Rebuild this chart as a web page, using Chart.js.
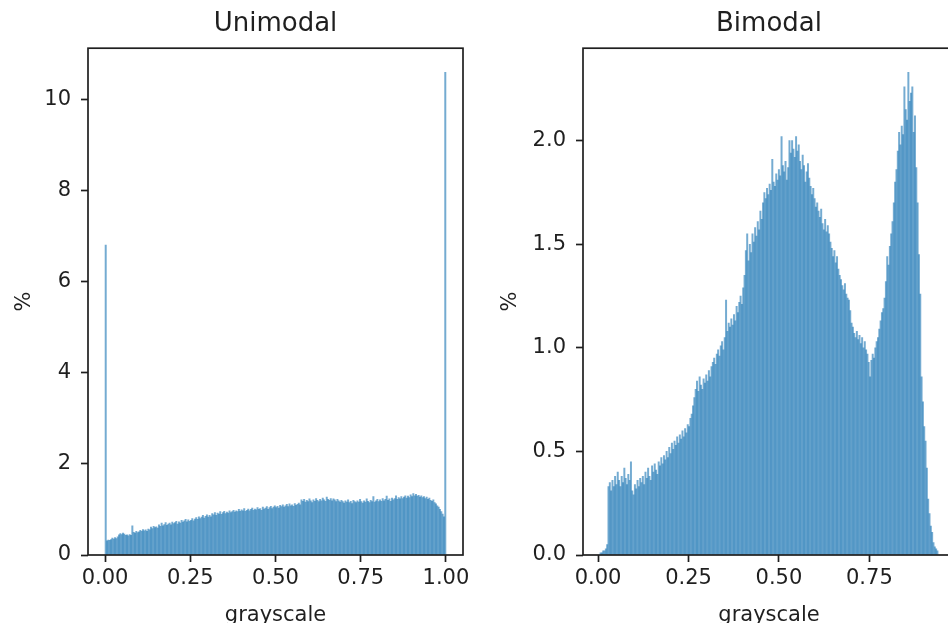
<!DOCTYPE html>
<html>
<head>
<meta charset="utf-8">
<script src="https://cdn.jsdelivr.net/npm/chart.js@4.4.0/dist/chart.umd.min.js"></script>
<style>
    html, body { margin: 0; padding: 0; background: #fff; overflow: hidden; }
    #marco { position: relative; width: 948px; height: 623px; overflow: hidden; }
    canvas { position: absolute; top: 0; }
    #uni { left: 0; }
    #bi { left: 474px; }
</style>
</head>
<body>
<div id="marco">
    <canvas id="uni" width="474" height="623"></canvas>
    <canvas id="bi" width="500" height="623"></canvas>
</div>
<script>
// Rango de los bins (grayscale) y porcentaje de pixeles en cada bin (256 bins)
var uniRange = [0, 1];
var uniPercent = [
    6.80, 0.31, 0.33, 0.32, 0.34, 0.37, 0.35, 0.38, 0.36, 0.40, 0.44, 0.47, 0.45, 0.48, 0.46, 0.43,
    0.44, 0.42, 0.45, 0.43, 0.64, 0.50, 0.48, 0.52, 0.49, 0.51, 0.54, 0.52, 0.56, 0.53, 0.55, 0.52,
    0.57, 0.55, 0.61, 0.58, 0.63, 0.60, 0.62, 0.59, 0.66, 0.63, 0.70, 0.64, 0.67, 0.71, 0.65, 0.68,
    0.70, 0.66, 0.72, 0.69, 0.71, 0.74, 0.68, 0.73, 0.70, 0.76, 0.72, 0.75, 0.78, 0.73, 0.77, 0.74,
    0.76, 0.80, 0.75, 0.79, 0.82, 0.78, 0.84, 0.80, 0.83, 0.87, 0.81, 0.85, 0.88, 0.83, 0.87, 0.84,
    0.91, 0.88, 0.93, 0.87, 0.92, 0.90, 0.95, 0.89, 0.93, 0.96, 0.91, 0.94, 0.92, 0.97, 0.93, 0.95,
    0.98, 0.94, 0.97, 0.95, 1.00, 0.96, 0.99, 0.97, 1.02, 0.96, 0.98, 1.01, 0.97, 1.00, 1.03, 0.98,
    1.01, 0.99, 1.04, 1.00, 1.02, 0.98, 1.05, 1.01, 1.03, 1.06, 1.00, 1.04, 1.07, 1.02, 1.05, 1.08,
    1.04, 1.07, 1.03, 1.09, 1.06, 1.10, 1.05, 1.08, 1.11, 1.06, 1.12, 1.08, 1.10, 1.07, 1.13, 1.09,
    1.11, 1.14, 1.10, 1.21, 1.18, 1.22, 1.16, 1.20, 1.17, 1.23, 1.19, 1.15, 1.21, 1.18, 1.24, 1.20,
    1.17, 1.22, 1.19, 1.25, 1.21, 1.18, 1.27, 1.22, 1.20, 1.24, 1.19, 1.23, 1.21, 1.17, 1.22, 1.19,
    1.16, 1.20, 1.17, 1.14, 1.19, 1.16, 1.21, 1.15, 1.18, 1.13, 1.20, 1.17, 1.15, 1.19, 1.16, 1.22,
    1.17, 1.14, 1.19, 1.16, 1.23, 1.18, 1.15, 1.20, 1.17, 1.28, 1.16, 1.19, 1.22, 1.17, 1.21, 1.18,
    1.24, 1.19, 1.22, 1.29, 1.20, 1.23, 1.18, 1.25, 1.21, 1.24, 1.30, 1.22, 1.26, 1.23, 1.28, 1.24,
    1.27, 1.30, 1.25, 1.29, 1.26, 1.32, 1.28, 1.35, 1.30, 1.33, 1.29, 1.31, 1.27, 1.30, 1.26, 1.28,
    1.24, 1.27, 1.22, 1.25, 1.20, 1.18, 1.21, 1.15, 1.12, 1.08, 1.05, 1.00, 0.95, 0.90, 0.84, 10.59
];

var biRange = [0.005, 0.94];
var biPercent = [
    0.01, 0.01, 0.02, 0.02, 0.03, 0.05, 0.33, 0.35, 0.31, 0.36, 0.33, 0.38, 0.34, 0.40, 0.36, 0.33,
    0.38, 0.35, 0.42, 0.37, 0.34, 0.39, 0.36, 0.45, 0.31, 0.29, 0.34, 0.32, 0.36, 0.33, 0.37, 0.35,
    0.38, 0.34, 0.40, 0.37, 0.42, 0.38, 0.36, 0.43, 0.40, 0.44, 0.41, 0.39, 0.45, 0.43, 0.47, 0.44,
    0.48, 0.46, 0.50, 0.47, 0.52, 0.49, 0.54, 0.51, 0.55, 0.53, 0.57, 0.54, 0.58, 0.56, 0.60, 0.57,
    0.61, 0.59, 0.63, 0.62, 0.66, 0.68, 0.72, 0.76, 0.80, 0.84, 0.79, 0.86, 0.82, 0.80, 0.85, 0.83,
    0.87, 0.84, 0.89, 0.86, 0.91, 0.93, 0.95, 0.92, 0.97, 0.99, 0.96, 1.01, 1.03, 0.99, 1.05, 1.23,
    1.08, 1.12, 1.10, 1.14, 1.11, 1.16, 1.13, 1.20, 1.17, 1.22, 1.25, 1.21, 1.29, 1.35, 1.47, 1.55,
    1.42, 1.50, 1.46, 1.55, 1.51, 1.58, 1.54, 1.61, 1.57, 1.66, 1.62, 1.70, 1.75, 1.72, 1.77, 1.74,
    1.79, 1.76, 1.91, 1.80, 1.78, 1.84, 1.81, 1.86, 1.83, 2.02, 1.88, 1.85, 1.90, 1.81, 1.87, 2.00,
    1.94, 2.00, 1.96, 1.92, 2.02, 1.95, 1.98, 1.90, 1.86, 1.93, 1.88, 1.80, 1.85, 1.89, 1.82, 1.78,
    1.74, 1.77, 1.72, 1.68, 1.70, 1.66, 1.63, 1.67, 1.60, 1.57, 1.62, 1.56, 1.59, 1.55, 1.51, 1.48,
    1.44, 1.47, 1.41, 1.44, 1.38, 1.35, 1.33, 1.30, 1.28, 1.31, 1.26, 1.24, 1.23, 1.18, 1.12, 1.10,
    1.07, 1.05, 1.08, 1.04, 1.06, 1.02, 1.05, 1.00, 1.03, 0.99, 0.97, 0.93, 0.86, 0.94, 0.97, 0.95,
    1.00, 1.03, 1.05, 1.09, 1.13, 1.17, 1.19, 1.24, 1.32, 1.44, 1.40, 1.49, 1.55, 1.61, 1.70, 1.80,
    1.86, 1.95, 2.04, 1.98, 2.07, 2.03, 2.26, 2.15, 2.10, 2.33, 2.19, 2.23, 2.26, 2.04, 2.12, 1.87,
    1.70, 1.45, 1.26, 0.86, 0.74, 0.62, 0.55, 0.42, 0.27, 0.20, 0.14, 0.11, 0.06, 0.04, 0.03, 0.02
];

// Marcas de los ejes
var uniXTicks = [0, 0.25, 0.5, 0.75, 1.0];
var uniYTicks = [0, 2, 4, 6, 8, 10];
var biXTicks = [0, 0.25, 0.5, 0.75];
var biYTicks = [0, 0.5, 1.0, 1.5, 2.0];

var colorTexto = "#1f1f1f";
Chart.defaults.font.family = "'DejaVu Sans', sans-serif";
Chart.defaults.color = colorTexto;

// Caja completa alrededor del area de datos (como los spines de matplotlib)
var cajaEjes = {
    id: "cajaEjes",
    afterDatasetsDraw: function (chart) {
        var a = chart.chartArea;
        var ctx = chart.ctx;
        ctx.save();
        ctx.strokeStyle = colorTexto;
        ctx.lineWidth = 1.7;
        ctx.strokeRect(a.left, a.top, a.right - a.left, a.bottom - a.top);
        ctx.restore();
    },
};

// Convierte los porcentajes en puntos {x: centro del bin, y: porcentaje}
function puntosBins(range, valores) {
    var ancho = (range[1] - range[0]) / valores.length;
    return valores.map(function (v, i) {
        return { x: range[0] + (i + 0.5) * ancho, y: v };
    });
}

function crearHistograma(id, titulo, range, valores, xTicks, yTicks, yDecimales, anchoY, padDerecha, padTituloY) {
    var span = range[1] - range[0];
    var yMax = Math.max.apply(null, valores) * 1.05;
    return new Chart(document.getElementById(id), {
        type: "bar",
        data: {
            datasets: [
                {
                    data: puntosBins(range, valores),
                    backgroundColor: "rgba(31,119,180,0.62)",
                    borderWidth: 0,
                    barPercentage: 1,
                    categoryPercentage: 1,
                },
            ],
        },
        options: {
            responsive: false,
            animation: false,
            layout: { padding: { left: 0, right: padDerecha, top: 0, bottom: 0 } },
            plugins: {
                legend: { display: false },
                tooltip: { enabled: false },
                title: {
                    display: true,
                    text: titulo,
                    fullSize: false,
                    color: colorTexto,
                    font: { size: 26, weight: "normal", lineHeight: 1.2 },
                    padding: { top: 9, bottom: 8 },
                },
            },
            scales: {
                x: {
                    type: "linear",
                    min: range[0] - 0.05 * span,
                    max: range[1] + 0.05 * span,
                    offset: false,
                    afterBuildTicks: function (s) {
                        s.ticks = xTicks.map(function (v) { return { value: v }; });
                    },
                    afterFit: function (s) { s.height = 68; },
                    border: { display: false },
                    grid: { drawOnChartArea: false, offset: false, tickLength: 7, tickWidth: 1.7, tickColor: colorTexto },
                    ticks: {
                        padding: 4,
                        maxRotation: 0,
                        autoSkip: false,
                        font: { size: 21 },
                        callback: function (v) { return v.toFixed(2); },
                    },
                    title: {
                        display: true,
                        text: "grayscale",
                        font: { size: 21, lineHeight: 1 },
                        padding: { top: 0, bottom: -3 },
                    },
                },
                y: {
                    min: 0,
                    max: yMax,
                    afterBuildTicks: function (s) {
                        s.ticks = yTicks.map(function (v) { return { value: v }; });
                    },
                    afterFit: function (s) { s.width = anchoY; },
                    border: { display: false },
                    grid: { drawOnChartArea: false, tickLength: 7, tickWidth: 1.7, tickColor: colorTexto },
                    ticks: {
                        padding: 10,
                        font: { size: 21 },
                        callback: function (v) { return v.toFixed(yDecimales); },
                    },
                    title: {
                        display: true,
                        text: "%",
                        font: { size: 21, lineHeight: 1.2 },
                        padding: { top: padTituloY, bottom: 0 },
                    },
                },
            },
        },
        plugins: [cajaEjes],
    });
}

crearHistograma("uni", "Unimodal", uniRange, uniPercent, uniXTicks, uniYTicks, 0, 88, 11, 12);
crearHistograma("bi", "Bimodal", biRange, biPercent, biXTicks, biYTicks, 1, 109, 19, 24);
</script>
</body>
</html>
